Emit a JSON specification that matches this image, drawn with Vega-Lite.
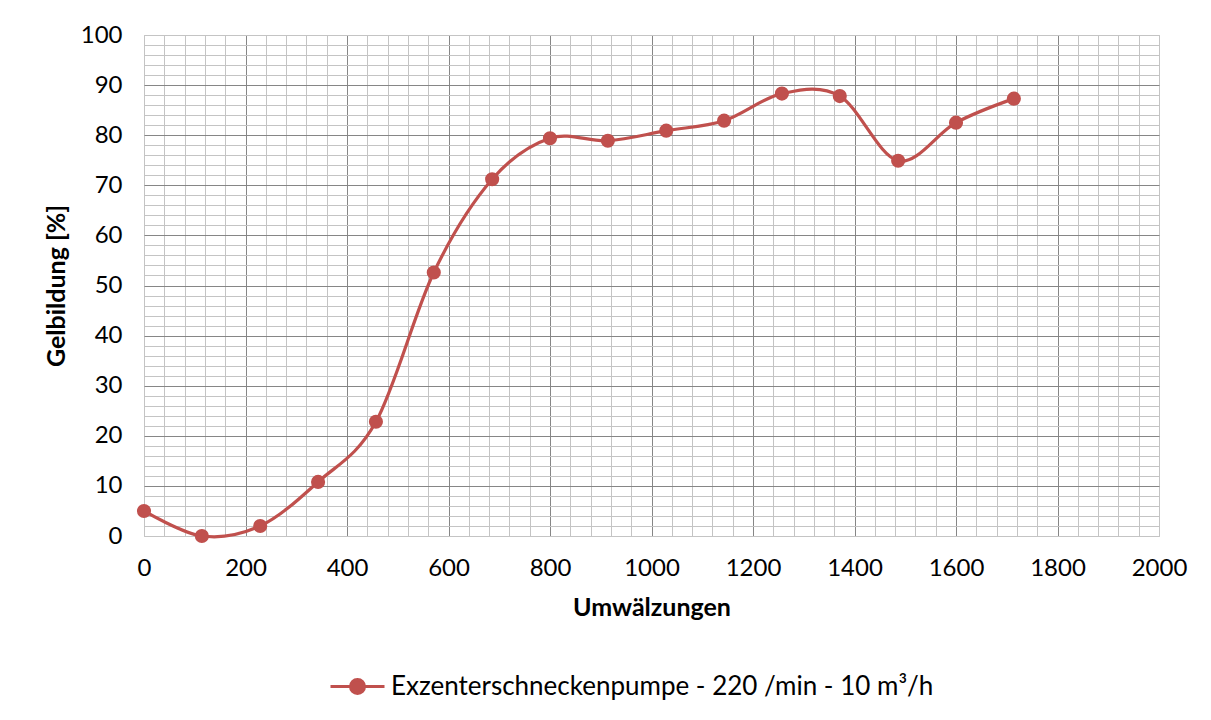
{
  "$schema": "https://vega.github.io/schema/vega-lite/v6.json",
  "width": 1015,
  "height": 501,
  "autosize": {"type": "none"},
  "padding": {"left": 144, "top": 35, "right": 52, "bottom": 184},
  "background": "#ffffff",
  "config": {
    "font": "Lato",
    "view": {"stroke": "#bfbfbf", "strokeWidth": 1},
    "axis": {"labelFont": "Lato", "titleFont": "Lato", "labelColor": "#000000", "titleColor": "#000000"}
  },
  "data": {
    "values": [
      {"u": 0, "g": 5.0, "s": "Exzenterschneckenpumpe - 220 /min - 10 m³/h"},
      {"u": 114, "g": 0.0, "s": "Exzenterschneckenpumpe - 220 /min - 10 m³/h"},
      {"u": 229, "g": 2.0, "s": "Exzenterschneckenpumpe - 220 /min - 10 m³/h"},
      {"u": 343, "g": 10.8, "s": "Exzenterschneckenpumpe - 220 /min - 10 m³/h"},
      {"u": 457, "g": 22.8, "s": "Exzenterschneckenpumpe - 220 /min - 10 m³/h"},
      {"u": 571, "g": 52.6, "s": "Exzenterschneckenpumpe - 220 /min - 10 m³/h"},
      {"u": 686, "g": 71.2, "s": "Exzenterschneckenpumpe - 220 /min - 10 m³/h"},
      {"u": 800, "g": 79.4, "s": "Exzenterschneckenpumpe - 220 /min - 10 m³/h"},
      {"u": 914, "g": 78.9, "s": "Exzenterschneckenpumpe - 220 /min - 10 m³/h"},
      {"u": 1029, "g": 80.9, "s": "Exzenterschneckenpumpe - 220 /min - 10 m³/h"},
      {"u": 1143, "g": 82.9, "s": "Exzenterschneckenpumpe - 220 /min - 10 m³/h"},
      {"u": 1257, "g": 88.3, "s": "Exzenterschneckenpumpe - 220 /min - 10 m³/h"},
      {"u": 1371, "g": 87.8, "s": "Exzenterschneckenpumpe - 220 /min - 10 m³/h"},
      {"u": 1486, "g": 74.9, "s": "Exzenterschneckenpumpe - 220 /min - 10 m³/h"},
      {"u": 1600, "g": 82.5, "s": "Exzenterschneckenpumpe - 220 /min - 10 m³/h"},
      {"u": 1714, "g": 87.3, "s": "Exzenterschneckenpumpe - 220 /min - 10 m³/h"}
    ]
  },
  "encoding": {
    "x": {
      "field": "u", "type": "quantitative",
      "scale": {"domain": [0, 2000], "nice": false, "zero": false},
      "axis": {
        "title": "Umwälzungen", "format": "d",
        "titleFontSize": 25, "titleFontWeight": "bold", "titlePadding": 15,
        "labelFontSize": 24, "labelPadding": 20,
        "values": [0,40,80,120,160,200,240,280,320,360,400,440,480,520,560,600,640,680,720,760,800,840,880,920,960,1000,1040,1080,1120,1160,1200,1240,1280,1320,1360,1400,1440,1480,1520,1560,1600,1640,1680,1720,1760,1800,1840,1880,1920,1960,2000],
        "labelExpr": "datum.value % 200 === 0 ? datum.label : ''",
        "labelFlush": false, "labelOverlap": false,
        "ticks": false, "domain": false,
        "grid": true, "gridWidth": 1,
        "gridColor": {"condition": {"test": "datum.value % 200 === 0 && datum.value > 0 && datum.value < 2000", "value": "#868686"}, "value": "#c4c4c4"}
      }
    },
    "y": {
      "field": "g", "type": "quantitative",
      "scale": {"domain": [0, 100], "nice": false},
      "axis": {
        "title": "Gelbildung [%]",
        "titleFontSize": 25, "titleFontWeight": "bold", "titlePadding": 11,
        "labelFontSize": 24, "labelPadding": 22,
        "values": [0,2,4,6,8,10,12,14,16,18,20,22,24,26,28,30,32,34,36,38,40,42,44,46,48,50,52,54,56,58,60,62,64,66,68,70,72,74,76,78,80,82,84,86,88,90,92,94,96,98,100],
        "labelExpr": "datum.value % 10 === 0 ? datum.label : ''",
        "labelFlush": false, "labelOverlap": false,
        "ticks": false, "domain": false,
        "grid": true, "gridWidth": 1,
        "gridColor": {"condition": {"test": "datum.value % 10 === 0 && datum.value > 0 && datum.value < 100", "value": "#868686"}, "value": "#c4c4c4"}
      }
    },
    "color": {
      "field": "s", "type": "nominal",
      "scale": {"range": ["#C0504D"]},
      "legend": {
        "title": null, "orient": "none", "legendX": 185, "legendY": 623,
        "labelFontSize": 26, "labelFont": "Lato", "labelColor": "#000000", "labelLimit": 0,
        "symbolType": "M-1,0H1M-0.26,0A0.26,0.26,0,1,1,0.26,0A0.26,0.26,0,1,1,-0.26,0Z",
        "symbolSize": 2916, "symbolStrokeWidth": 3,
        "symbolFillColor": "#C0504D", "symbolStrokeColor": "#C0504D",
        "labelOffset": 5
      }
    }
  },
  "layer": [
    {"mark": {"type": "line", "interpolate": "cardinal", "strokeWidth": 3.2}},
    {"mark": {"type": "point", "filled": true, "size": 200, "opacity": 1}}
  ]
}
